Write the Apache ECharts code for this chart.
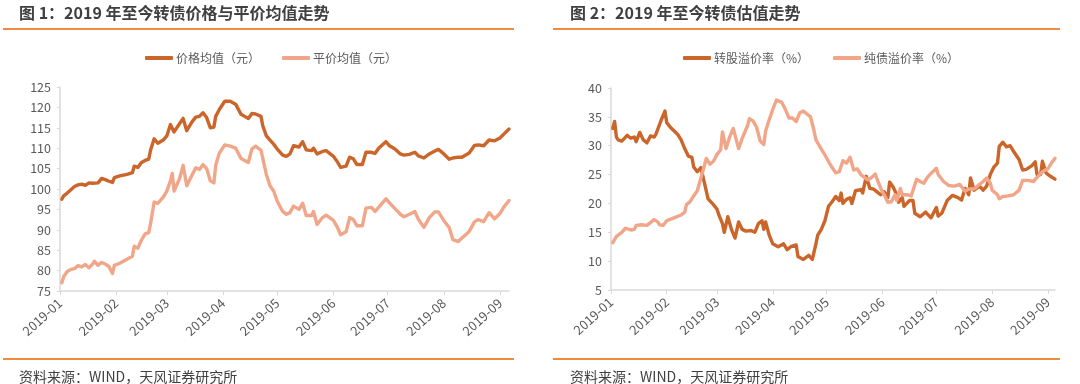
<!DOCTYPE html>
<html>
<head>
<meta charset="utf-8">
<script src="https://cdn.jsdelivr.net/npm/echarts@6/dist/echarts.min.js"></script>
<style>
html,body{margin:0;padding:0;background:#fff;}
#c{width:1080px;height:384px;}
</style>
</head>
<body>
<div id="c"></div>
<script>
// ---------- Chart 1 data ----------
const dates1 = ['2019-01-02','2019-01-03','2019-01-05','2019-01-07','2019-01-09','2019-01-11','2019-01-13','2019-01-15','2019-01-17','2019-01-19','2019-01-20','2019-01-22','2019-01-24','2019-01-26','2019-01-28','2019-01-30','2019-01-31',
'2019-02-03','2019-02-07','2019-02-10','2019-02-11','2019-02-13','2019-02-15','2019-02-17','2019-02-19','2019-02-20','2019-02-22','2019-02-24','2019-02-27',
'2019-03-01','2019-03-03','2019-03-04','2019-03-05','2019-03-08','2019-03-10','2019-03-12','2019-03-15','2019-03-17','2019-03-19','2019-03-21','2019-03-23','2019-03-25','2019-03-27','2019-03-28','2019-03-30',
'2019-04-02','2019-04-05','2019-04-08','2019-04-11','2019-04-13','2019-04-15','2019-04-17','2019-04-19','2019-04-22','2019-04-23','2019-04-25','2019-04-27','2019-04-29',
'2019-05-01','2019-05-04','2019-05-06','2019-05-08','2019-05-10','2019-05-13','2019-05-15','2019-05-17','2019-05-20','2019-05-21','2019-05-23','2019-05-26','2019-05-28',
'2019-06-01','2019-06-03','2019-06-05','2019-06-08','2019-06-10','2019-06-12','2019-06-14','2019-06-17','2019-06-19','2019-06-22','2019-06-24','2019-06-26','2019-06-30',
'2019-07-02','2019-07-05','2019-07-08','2019-07-10','2019-07-13','2019-07-16','2019-07-18','2019-07-21','2019-07-24','2019-07-27','2019-07-29',
'2019-08-01','2019-08-04','2019-08-06','2019-08-09','2019-08-11','2019-08-15','2019-08-18','2019-08-20','2019-08-23','2019-08-26','2019-08-29',
'2019-09-01','2019-09-03','2019-09-06'];
const priceAvg = [97.5,98.3,99.0,99.8,100.6,101.0,101.2,100.9,101.5,101.4,101.8,101.5,102.6,102.3,101.9,101.6,102.8,
103.2,103.6,104.0,105.6,105.3,106.5,107.0,107.3,109.5,112.3,111.2,112.0,
113.0,115.8,116.2,114.0,116.0,117.3,114.3,116.5,117.6,117.8,118.7,117.5,115.0,115.2,117.8,119.5,
121.5,121.5,120.8,118.3,117.8,117.3,118.5,118.4,117.8,115.5,113.0,112.0,111.0,
109.8,108.3,108.0,108.6,110.6,110.3,111.6,109.6,109.4,110.0,108.6,109.2,109.4,
108.0,106.8,105.3,105.6,107.8,107.4,106.0,106.0,109.0,109.0,108.7,110.0,111.6,
110.6,109.8,108.6,108.3,108.5,109.0,108.1,107.6,108.6,109.3,109.7,
108.6,107.3,107.6,107.8,107.8,108.8,110.7,110.8,110.6,112.0,111.8,
112.5,113.4,114.7];
const parityAvg = [77.0,78.5,79.8,80.3,80.5,81.2,80.9,81.5,80.7,81.6,82.3,81.3,82.0,81.6,81.0,79.3,81.3,
81.8,82.8,83.5,86.0,85.5,87.5,89.0,89.3,91.5,96.8,96.5,98.0,
99.5,102.0,103.8,99.5,102.5,105.8,100.8,103.5,105.2,104.8,106.0,105.0,102.0,101.5,105.8,108.8,
110.8,110.5,110.0,107.5,107.0,106.5,109.8,110.5,109.5,107.5,103.5,100.8,99.5,
97.0,94.5,93.8,94.2,95.8,95.0,96.5,93.5,93.5,94.5,91.3,93.0,93.6,
92.3,90.8,88.8,89.5,93.0,92.5,91.0,91.0,95.3,95.5,94.5,95.5,97.6,
96.6,95.2,93.8,93.2,93.8,94.5,92.5,90.6,93.0,94.4,94.4,
92.3,90.5,87.6,87.1,88.0,89.6,92.0,92.5,92.0,94.2,92.7,
94.0,95.5,97.2];

// ---------- Chart 2 data ----------
const convDates = ['2019-01-02','2019-01-03','2019-01-04','2019-01-05','2019-01-07','2019-01-10','2019-01-12','2019-01-14','2019-01-15','2019-01-17','2019-01-19','2019-01-21','2019-01-23','2019-01-25','2019-01-26','2019-01-27','2019-01-29','2019-01-31',
'2019-02-01','2019-02-03','2019-02-07','2019-02-09','2019-02-11','2019-02-13','2019-02-15','2019-02-16','2019-02-18','2019-02-20','2019-02-22','2019-02-24','2019-02-27',
'2019-03-01','2019-03-02','2019-03-04','2019-03-05','2019-03-07','2019-03-09','2019-03-11','2019-03-13','2019-03-15','2019-03-17','2019-03-20','2019-03-22','2019-03-24','2019-03-26','2019-03-27','2019-03-28','2019-03-30',
'2019-04-01','2019-04-04','2019-04-07','2019-04-09','2019-04-11','2019-04-14','2019-04-15','2019-04-18','2019-04-21','2019-04-22','2019-04-23','2019-04-25','2019-04-26','2019-04-28','2019-04-30',
'2019-05-02','2019-05-04','2019-05-06','2019-05-08','2019-05-09','2019-05-10','2019-05-12','2019-05-14','2019-05-15','2019-05-17','2019-05-20','2019-05-21','2019-05-23','2019-05-25','2019-05-27','2019-05-29','2019-05-31',
'2019-06-02','2019-06-04','2019-06-05','2019-06-07','2019-06-09','2019-06-10','2019-06-12','2019-06-13','2019-06-16','2019-06-18','2019-06-19','2019-06-22','2019-06-25','2019-06-28',
'2019-07-01','2019-07-02','2019-07-04','2019-07-07','2019-07-10','2019-07-13','2019-07-15','2019-07-17','2019-07-19','2019-07-20','2019-07-22','2019-07-25','2019-07-27','2019-07-29','2019-07-31',
'2019-08-02','2019-08-04','2019-08-05','2019-08-07','2019-08-09','2019-08-11','2019-08-13','2019-08-16','2019-08-18','2019-08-20','2019-08-23','2019-08-25','2019-08-26','2019-08-28','2019-08-29','2019-08-31',
'2019-09-02','2019-09-05'];
const convPremium = [33.0,34.2,31.5,31.0,30.8,31.8,31.3,31.5,30.7,32.3,31.0,30.5,31.7,31.5,32.0,32.0,34.5,36.0,
34.0,33.2,32.0,31.0,29.5,28.2,28.0,26.3,25.5,26.2,23.5,20.8,19.8,
19.0,18.0,16.5,15.0,17.7,15.5,14.0,16.8,15.5,15.2,15.3,15.0,16.5,17.0,15.5,16.8,14.5,
13.0,12.5,13.0,12.0,12.5,12.8,10.8,10.3,11.0,11.2,10.3,13.0,14.5,15.5,17.0,
19.5,20.3,21.2,20.5,21.8,20.0,20.7,21.0,20.0,22.2,22.4,21.8,24.7,22.6,22.5,22.0,21.5,
22.0,21.0,23.7,22.8,21.5,20.2,21.0,19.5,20.5,20.5,18.3,17.7,18.5,17.5,
19.3,17.8,18.3,20.5,21.4,21.0,20.6,22.6,21.5,24.4,22.3,23.0,22.3,23.0,25.0,
26.3,27.0,29.9,30.6,29.8,30.0,29.0,27.6,25.8,25.9,26.5,27.2,25.0,25.0,27.3,25.3,
24.8,24.2];
const bondDates = ['2019-01-02','2019-01-03','2019-01-04','2019-01-07','2019-01-09','2019-01-12','2019-01-14','2019-01-15','2019-01-18','2019-01-21','2019-01-22','2019-01-25','2019-01-27','2019-01-28','2019-01-30',
'2019-02-01','2019-02-05','2019-02-09','2019-02-11','2019-02-12','2019-02-14','2019-02-16','2019-02-18','2019-02-19','2019-02-21','2019-02-23','2019-02-25','2019-02-27',
'2019-03-01','2019-03-03','2019-03-04','2019-03-06','2019-03-08','2019-03-10','2019-03-13','2019-03-15','2019-03-18','2019-03-19','2019-03-21','2019-03-23','2019-03-25','2019-03-27','2019-03-28','2019-03-30',
'2019-04-01','2019-04-03','2019-04-06','2019-04-08','2019-04-10','2019-04-12','2019-04-14','2019-04-16','2019-04-18','2019-04-20','2019-04-22','2019-04-24','2019-04-25','2019-04-28','2019-04-30',
'2019-05-03','2019-05-06','2019-05-08','2019-05-10','2019-05-12','2019-05-14','2019-05-16','2019-05-18','2019-05-20','2019-05-22','2019-05-24','2019-05-26','2019-05-28','2019-05-30',
'2019-06-01','2019-06-02','2019-06-04','2019-06-06','2019-06-08','2019-06-09','2019-06-11','2019-06-12','2019-06-15','2019-06-17','2019-06-20','2019-06-22','2019-06-24','2019-06-26','2019-06-28',
'2019-07-01','2019-07-02','2019-07-05','2019-07-08','2019-07-11','2019-07-14','2019-07-15','2019-07-17','2019-07-19','2019-07-22','2019-07-25','2019-07-27','2019-07-29','2019-07-31',
'2019-08-01','2019-08-04','2019-08-05','2019-08-07','2019-08-10','2019-08-13','2019-08-16','2019-08-18','2019-08-21','2019-08-24','2019-08-26','2019-08-29','2019-08-30',
'2019-09-01','2019-09-03','2019-09-05'];
const bondPremium = [13.2,13.5,14.3,15.0,15.7,15.4,15.5,16.2,16.3,16.2,15.9,17.2,16.8,16.3,16.2,
17.0,17.5,18.0,18.5,19.8,20.3,21.3,22.2,22.5,25.5,27.8,26.8,27.3,
28.5,29.3,32.4,29.5,31.5,33.0,29.5,31.3,33.5,34.7,34.3,33.2,30.8,30.2,32.5,34.5,
36.3,37.9,37.5,36.3,34.8,34.8,34.2,35.7,36.0,35.5,35.0,32.5,31.0,29.4,28.4,
26.7,25.3,25.5,27.4,27.0,28.0,25.8,26.0,25.0,24.5,24.1,24.5,25.1,23.4,
22.0,21.5,20.2,20.3,21.5,20.5,22.6,21.5,21.5,21.3,24.2,23.8,23.5,24.5,25.2,
26.1,25.0,23.8,23.1,23.0,23.3,23.5,22.1,22.5,22.5,23.3,23.8,24.4,23.5,
22.3,21.5,20.8,21.2,21.3,21.5,22.3,24.0,24.0,23.8,24.5,25.5,25.8,
26.0,27.0,27.8];

const titles = ['图 1：2019 年至今转债价格与平价均值走势', '图 2：2019 年至今转债估值走势'];
const sourceText = '资料来源：WIND，天风证券研究所';
const names1 = ['价格均值（元）', '平价均值（元）'];
const names2 = ['转股溢价率（%）', '纯债溢价率（%）'];

const DARK = '#CB6529';
const LIGHT = '#F1A68A';
const RULE = '#EE8B3E';
const FONT = '"Noto Sans CJK SC", "Noto Sans", sans-serif';
const zip = (d, v) => d.map((x, i) => [x, v[i]]);

const chart = echarts.init(document.getElementById('c'), null, {renderer: 'canvas'});

function xAxis(gridIndex, max) {
  return {
    type: 'time', gridIndex,
    min: '2019-01-01', max,
    splitNumber: 9,
    minInterval: 28 * 864e5,
    maxInterval: 31 * 864e5,
    axisLine: {show: true, lineStyle: {color: '#D9D9D9', width: 1.5}},
    axisTick: {show: true, length: 4, lineStyle: {color: '#D9D9D9'}},
    splitLine: {show: false},
    axisLabel: {formatter: '{yyyy}-{MM}', rotate: 42, color: '#595959', fontSize: 13,
      fontFamily: FONT, margin: 10, hideOverlap: false, showMaxLabel: false}
  };
}
function yAxis(gridIndex, min, max, interval) {
  return {
    type: 'value', gridIndex, min, max, interval,
    axisLine: {show: true, lineStyle: {color: '#D9D9D9', width: 1.5}},
    axisTick: {show: true, length: 3, lineStyle: {color: '#D9D9D9'}},
    splitLine: {show: false},
    axisLabel: {color: '#595959', fontSize: 12.5, fontFamily: FONT, margin: 9}
  };
}
function line(name, data, color, xi) {
  return {
    name, type: 'line', xAxisIndex: xi, yAxisIndex: xi, data,
    showSymbol: false, symbol: 'none', smooth: false,
    lineStyle: {color, width: 3.4, join: 'round', cap: 'round'},
    itemStyle: {color}
  };
}

const option = {
  backgroundColor: '#fff',
  animation: false,
  title: [
    {text: titles[0], left: 14, top: 0, textStyle: {fontSize: 16, fontWeight: 'bold', color: '#404040', fontFamily: FONT}},
    {text: titles[1], left: 565, top: 0, textStyle: {fontSize: 16, fontWeight: 'bold', color: '#404040', fontFamily: FONT}},
    {text: sourceText, left: 14, top: 365, textStyle: {fontSize: 14, fontWeight: 'normal', color: '#404040', fontFamily: FONT}},
    {text: sourceText, left: 565, top: 365, textStyle: {fontSize: 14, fontWeight: 'normal', color: '#404040', fontFamily: FONT}}
  ],
  legend: [
    {data: names1, left: 140, top: 47, icon: 'roundRect', itemWidth: 28, itemHeight: 4, itemGap: 22,
     textStyle: {color: '#595959', fontSize: 12, fontFamily: FONT, padding: [0, 0, 0, -2]}},
    {data: names2, left: 678, top: 47, icon: 'roundRect', itemWidth: 28, itemHeight: 4, itemGap: 24,
     textStyle: {color: '#595959', fontSize: 12, fontFamily: FONT, padding: [0, 0, 0, -2]}}
  ],
  grid: [
    {left: 60, top: 87, width: 449, height: 204},
    {left: 611, top: 88, width: 444, height: 202}
  ],
  xAxis: [xAxis(0, '2019-09-06'), xAxis(1, '2019-09-05')],
  yAxis: [yAxis(0, 75, 125, 5), yAxis(1, 5, 40, 5)],
  series: [
    line(names1[0], zip(dates1, priceAvg), DARK, 0),
    line(names1[1], zip(dates1, parityAvg), LIGHT, 0),
    line(names2[0], zip(convDates, convPremium), DARK, 1),
    line(names2[1], zip(bondDates, bondPremium), LIGHT, 1)
  ],
  graphic: [
    {type: 'line', shape: {x1: 3, y1: 29, x2: 514, y2: 29}, style: {stroke: RULE, lineWidth: 2}},
    {type: 'line', shape: {x1: 553, y1: 29, x2: 1060, y2: 29}, style: {stroke: RULE, lineWidth: 2}},
    {type: 'line', shape: {x1: 3, y1: 359, x2: 514, y2: 359}, style: {stroke: RULE, lineWidth: 2}},
    {type: 'line', shape: {x1: 553, y1: 359, x2: 1060, y2: 359}, style: {stroke: RULE, lineWidth: 2}}
  ]
};
chart.setOption(option);
</script>
</body>
</html>
